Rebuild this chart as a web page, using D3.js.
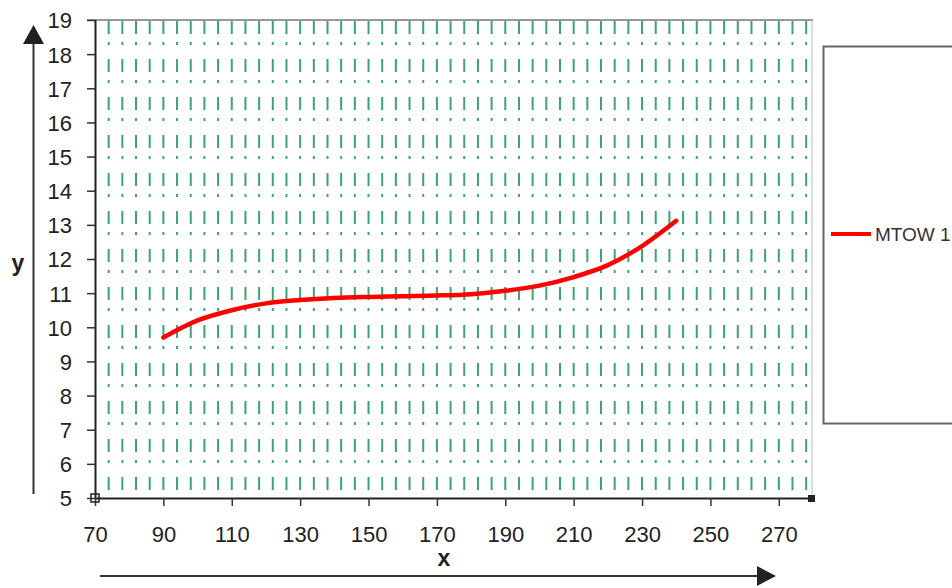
<!DOCTYPE html>
<html><head><meta charset="utf-8">
<script src="https://cdn.jsdelivr.net/npm/d3@7"></script>
<style>html,body{margin:0;padding:0;background:#fff;}svg{display:block;}</style>
</head><body>
<svg id="chart" width="952" height="588"></svg>
<script>
const xValues = [90, 100, 110, 120, 130, 140, 150, 160, 170, 180, 190, 200, 210, 220, 230, 240];
const yValues = [9.7, 10.2, 10.5, 10.7, 10.8, 10.86, 10.89, 10.91, 10.93, 10.97, 11.07, 11.22, 11.47, 11.82, 12.38, 13.12];
const xTicks = [70, 90, 110, 130, 150, 170, 190, 210, 230, 250, 270];
const yTicks = [5, 6, 7, 8, 9, 10, 11, 12, 13, 14, 15, 16, 17, 18, 19];
const gridXStart = 74, gridXStep = 4, gridXEnd = 278;
const seriesName = "MTOW 1";
const xLabel = "x", yLabel = "y";

const svg = d3.select("#chart");
const x = d3.scaleLinear().domain([70, 280]).range([95, 813]);
const y = d3.scaleLinear().domain([5, 19]).range([498, 20]);

// grid
const gridX = d3.range(gridXStart, gridXEnd + 1, gridXStep);
svg.append("g").selectAll("line").data(gridX).join("line")
  .attr("x1", d => x(d)).attr("x2", d => x(d))
  .attr("y1", y(19)).attr("y2", y(5) - 3)
  .attr("stroke", "#3ea373").attr("stroke-width", 2)
  .attr("stroke-dasharray", "13,8,3,14").attr("stroke-dashoffset", -1);

// top and right border
svg.append("line").attr("x1", x(70) - 8).attr("x2", x(280)).attr("y1", y(19)).attr("y2", y(19))
  .attr("stroke", "#777").attr("stroke-width", 1.5);
svg.append("line").attr("x1", x(280) - 1).attr("x2", x(280) - 1).attr("y1", y(19)).attr("y2", y(5))
  .attr("stroke", "#bbb").attr("stroke-width", 1);

// axes
const yAxis = d3.axisLeft(y).tickValues(yTicks).tickSize(8).tickPadding(15).tickFormat(d3.format("d"));
const gy = svg.append("g").attr("transform", `translate(${x(70)},0)`).call(yAxis);
const xAxis = d3.axisBottom(x).tickValues(xTicks).tickSize(8).tickPadding(20).tickFormat(d3.format("d"));
const gx = svg.append("g").attr("transform", `translate(0,${y(5)})`).call(xAxis);
[gx, gy].forEach(g => {
  g.select(".domain").attr("stroke", "#222").attr("stroke-width", 2);
  g.selectAll(".tick line").attr("stroke", "#333").attr("stroke-width", 1.5);
  g.selectAll(".tick text").attr("fill", "#222").attr("font-family", "Liberation Sans, Arial, sans-serif").attr("font-size", 22);
});
gy.selectAll(".tick text").attr("dy", "0.36em");
gx.select(".domain").attr("d", `M${x(70)},0.5H${x(280)}`);
gy.select(".domain").attr("d", `M0.5,${y(5)}V${y(19)}`);

// corner markers
svg.append("rect").attr("x", x(70) - 4).attr("y", y(5) - 4).attr("width", 8).attr("height", 8)
  .attr("fill", "none").attr("stroke", "#222").attr("stroke-width", 1.5);
svg.append("rect").attr("x", x(280) - 5).attr("y", y(5) - 3).attr("width", 7).attr("height", 7)
  .attr("fill", "#222");

// curve
const pts = xValues.map((d, i) => [x(d), y(yValues[i])]);
svg.append("path").attr("d", d3.line().curve(d3.curveMonotoneX)(pts))
  .attr("fill", "none").attr("stroke", "#f00").attr("stroke-width", 4.5).attr("stroke-linecap", "round");

// axis labels and arrows
svg.append("text").attr("x", 18).attr("y", 271).attr("text-anchor", "middle")
  .attr("font-family", "Liberation Sans, Arial, sans-serif").attr("font-size", 23).attr("font-weight", "bold")
  .attr("fill", "#222").text(yLabel);
svg.append("line").attr("x1", 33.5).attr("x2", 33.5).attr("y1", 494).attr("y2", 40)
  .attr("stroke", "#333").attr("stroke-width", 2);
svg.append("path").attr("d", "M33.5,25L23,44L44,44Z").attr("fill", "#222");

svg.append("text").attr("x", 444).attr("y", 566).attr("text-anchor", "middle")
  .attr("font-family", "Liberation Sans, Arial, sans-serif").attr("font-size", 23).attr("font-weight", "bold")
  .attr("fill", "#222").text(xLabel);
svg.append("line").attr("x1", 100).attr("x2", 760).attr("y1", 576).attr("y2", 576)
  .attr("stroke", "#333").attr("stroke-width", 2);
svg.append("path").attr("d", "M776,576L757,566L757,586Z").attr("fill", "#222");

// legend
svg.append("rect").attr("x", 823.5).attr("y", 46.5).attr("width", 140).attr("height", 377)
  .attr("fill", "#fff").attr("stroke", "#666").attr("stroke-width", 2);
svg.append("line").attr("x1", 831).attr("x2", 871).attr("y1", 234).attr("y2", 234)
  .attr("stroke", "#f00").attr("stroke-width", 4);
svg.append("text").attr("x", 875).attr("y", 241)
  .attr("font-family", "Liberation Sans, Arial, sans-serif").attr("font-size", 19)
  .attr("fill", "#333").text(seriesName);
</script>
</body></html>
